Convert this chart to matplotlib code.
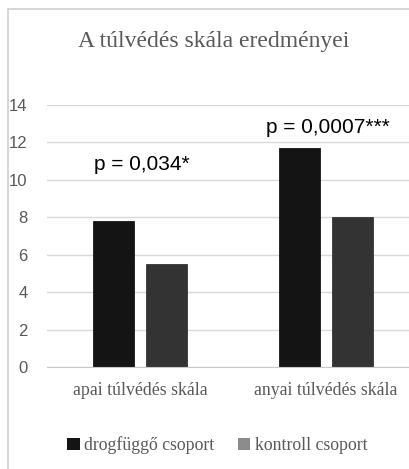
#!/usr/bin/env python3
"""Bar chart: A túlvédés skála eredményei (drogfüggő vs kontroll csoport)."""

import matplotlib
matplotlib.use("Agg")
import matplotlib.pyplot as plt
from matplotlib.lines import Line2D
from matplotlib.patches import Patch
import numpy as np

CATEGORIES = ["apai túlvédés skála", "anyai túlvédés skála"]
SERIES_NAMES = ["drogfüggő csoport", "kontroll csoport"]
DROG_VALUES = [7.8, 11.7]
KONTROLL_VALUES = [5.5, 8.0]
P_LABELS = ["p = 0,034*", "p = 0,0007***"]
P_Y = [10.8, 12.8]
Y_TICKS = [0, 2, 4, 6, 8, 10, 12, 14]

TEXT_GREY = "#595959"
GRID_GREY = "#d9d9d9"
DROG_COLOR = "#141414"
KONTROLL_COLOR = "#333333"
KONTROLL_LEGEND = "#8c8c8c"
SERIF = "Liberation Serif"
SANS = "Liberation Sans"


def main():
    fig = plt.figure(figsize=(4.10, 4.69), dpi=100)
    ax = fig.add_axes([0.1146, 0.2175, 0.8854, 0.5587])

    x = np.arange(len(CATEGORIES))
    width = 0.22
    offset = 0.143
    ax.bar(x - offset, DROG_VALUES, width, color=DROG_COLOR,
           edgecolor="#000000", linewidth=0.5, zorder=3)
    ax.bar(x + offset, KONTROLL_VALUES, width, color=KONTROLL_COLOR,
           edgecolor="#222222", linewidth=0.5, zorder=3)

    for xi, label, y in zip(x, P_LABELS, P_Y):
        ax.text(xi + 0.01, y, label, ha="center", va="center",
                fontsize=15, family=SANS, color="#000000", zorder=4)

    ax.set_xlim(-0.5, 1.454)
    ax.set_ylim(0, 14)
    ax.set_yticks(Y_TICKS)
    ax.set_xticks(x)
    ax.set_xticklabels(CATEGORIES, family=SERIF, fontsize=12.8, color=TEXT_GREY)
    for lbl in ax.get_yticklabels():
        lbl.set_family(SANS)
        lbl.set_fontsize(12)
        lbl.set_color(TEXT_GREY)

    ax.tick_params(axis="both", length=0)
    ax.tick_params(axis="x", pad=11)
    ax.tick_params(axis="y", pad=14)
    for side in ["top", "right", "left"]:
        ax.spines[side].set_visible(False)
    ax.spines["bottom"].set_color("#c8c8c8")
    ax.spines["bottom"].set_zorder(4)
    ax.yaxis.grid(True, color=GRID_GREY, linewidth=1)
    ax.set_axisbelow(True)

    fig.text(0.52, 0.912, "A túlvédés skála eredményei", ha="center", va="center",
             family=SERIF, fontsize=17, color=TEXT_GREY)

    # chart area border (left and top visible in the crop)
    fig.add_artist(Line2D([8 / 410, 8 / 410], [0, 1 - 9 / 469],
                          color="#d0d0d0", linewidth=1.2, transform=fig.transFigure))
    fig.add_artist(Line2D([8 / 410, 1], [1 - 9 / 469, 1 - 9 / 469],
                          color="#d0d0d0", linewidth=1.2, transform=fig.transFigure))

    handles = [
        Patch(facecolor=DROG_COLOR, label=SERIES_NAMES[0]),
        Patch(facecolor=KONTROLL_LEGEND, label=SERIES_NAMES[1]),
    ]
    leg = fig.legend(handles=handles, loc="center", bbox_to_anchor=(0.53, 0.05),
                     ncol=2, frameon=False, handlelength=0.7, handleheight=0.7,
                     handletextpad=0.25, columnspacing=1.3,
                     prop={"family": SERIF, "size": 12.8})
    for t in leg.get_texts():
        t.set_color(TEXT_GREY)

    fig.savefig("out.png", dpi=100)
    plt.close(fig)


if __name__ == "__main__":
    main()
